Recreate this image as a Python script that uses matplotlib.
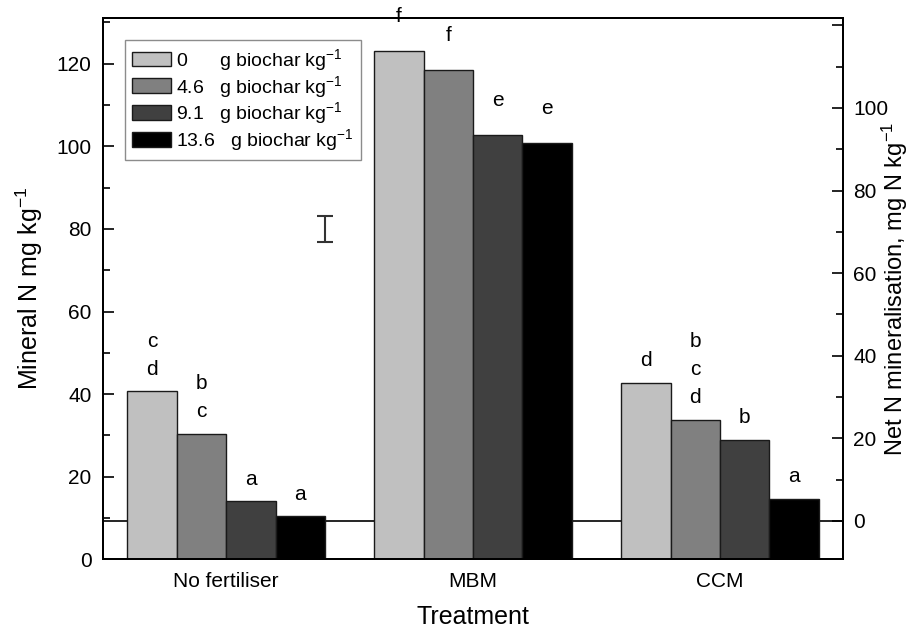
import matplotlib
matplotlib.use("Agg")
import matplotlib.pyplot as plt
from matplotlib.ticker import MultipleLocator
import numpy as np

# ── data ──
treatments = ["No fertiliser", "MBM", "CCM"]
biochar_labels = ["0      g biochar kg$^{-1}$",
                  "4.6   g biochar kg$^{-1}$",
                  "9.1   g biochar kg$^{-1}$",
                  "13.6   g biochar kg$^{-1}$"]
no_fert = [40.7, 30.4, 14.1, 10.4]
mbm = [123.0, 118.5, 102.8, 100.9]
ccm = [42.8, 33.8, 28.9, 14.7]
letters_no_fert = ["c\nd", "b\nc", "a", "a"]
letters_mbm = ["f", "f", "e", "e"]
letters_ccm = ["d", "b\nc\nd", "b", "a"]
initial_n = 9.3          # mineral N at start (net mineralisation = 0)
lsd_x, lsd_y, lsd_err = 0.4, 80.0, 3.2

plt.rcParams['font.family'] = ['Liberation Sans', 'DejaVu Sans']
plt.rcParams['mathtext.fontset'] = 'custom'
plt.rcParams['mathtext.rm'] = 'Liberation Sans'
plt.rcParams['mathtext.it'] = 'Liberation Sans'
plt.rcParams['mathtext.default'] = 'regular'

values = np.array([no_fert, mbm, ccm])
letters = [letters_no_fert, letters_mbm, letters_ccm]
colors = ["#c0c0c0", "#808080", "#404040", "#000000"]

fig = plt.figure(figsize=(9.17, 6.35), dpi=100)
ax = fig.add_axes([0.112, 0.1192, 0.8077, 0.852])

width = 0.2
x = np.arange(len(treatments))
for i in range(4):
    pos = x + (i - 1.5) * width
    ax.bar(pos, values[:, i], width, color=colors[i], edgecolor="#1a1a1a",
           linewidth=1.0, label=biochar_labels[i], zorder=2)
    for j in range(len(treatments)):
        pad = 18 if j == 1 else 9
        ax.annotate(letters[j][i], (pos[j], values[j, i]), xytext=(0, pad),
                    textcoords="offset points", ha="center", va="bottom",
                    fontsize=15, linespacing=1.6, zorder=3, annotation_clip=False)

# zero line of net mineralisation
ax.axhline(initial_n, color="black", lw=1.2, zorder=1)

# LSD bar
ax.errorbar(lsd_x, lsd_y, yerr=lsd_err, color="#333333", capsize=6,
            elinewidth=1.5, capthick=1.5)

ax.set_xlim(-0.5, 2.5)
ax.set_ylim(0, 131)
ax.set_xticks(x)
ax.set_xticklabels(treatments, fontsize=15)
ax.tick_params(axis="x", length=0, pad=9)
ax.yaxis.set_major_locator(MultipleLocator(20))
ax.yaxis.set_minor_locator(MultipleLocator(10))
ax.tick_params(axis="y", which="major", direction="in", length=8, width=1.2,
               labelsize=15, pad=8)
ax.tick_params(axis="y", which="minor", direction="in", length=5, width=1.2)
ax.set_ylabel("Mineral N mg kg$^{-1}$", fontsize=18, labelpad=8)
ax.set_xlabel("Treatment", fontsize=18, labelpad=10)
for s in ax.spines.values():
    s.set_linewidth(1.4)

ax2 = ax.twinx()
ax2.set_ylim(0 - initial_n, 131 - initial_n)
ax2.set_yticks([0, 20, 40, 60, 80, 100, 120])
ax2.set_yticklabels(["0", "20", "40", "60", "80", "100", ""])
ax2.yaxis.set_minor_locator(MultipleLocator(10))
ax2.tick_params(axis="y", which="major", direction="in", length=8, width=1.2,
                labelsize=15, pad=7)
ax2.tick_params(axis="y", which="minor", direction="in", length=5, width=1.2)
for s in ax2.spines.values():
    s.set_linewidth(1.4)

# right-hand axis title placed explicitly so it stays inside the canvas
fig.text(0.976, 0.545, "Net N mineralisation, mg N kg$^{-1}$", fontsize=17,
         rotation=90, ha="center", va="center")

leg = ax.legend(loc="upper left", bbox_to_anchor=(0.03, 0.96), borderaxespad=0,
                fontsize=14, fancybox=False, edgecolor="#707070",
                handlelength=2.0, handleheight=0.8, handletextpad=0.3,
                labelspacing=0.05, borderpad=0.35)
leg.get_frame().set_linewidth(1.0)

fig.savefig("out.png", dpi=100)
